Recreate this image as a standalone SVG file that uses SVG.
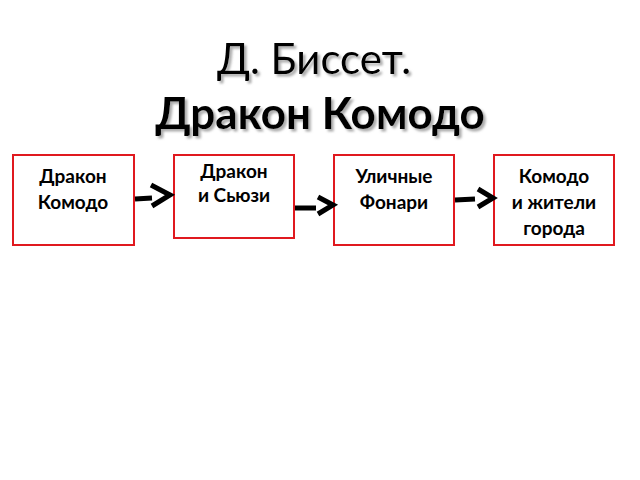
<svg xmlns="http://www.w3.org/2000/svg" width="640" height="480" viewBox="0 0 640 480">
<defs>
<filter id="sh" x="-10%" y="-30%" width="130%" height="170%">
<feDropShadow dx="2.5" dy="2.5" stdDeviation="0.8" flood-color="#888" flood-opacity="0.7"/>
</filter>
</defs>
<style>
.t{font-family:Lato,"Open Sans","DejaVu Sans",sans-serif;text-anchor:middle;fill:#000}
.b{fill:#fff;stroke:#e0191f;stroke-width:2}
.n{font-family:Lato,"Open Sans","DejaVu Sans",sans-serif;font-weight:bold;font-size:19px;text-anchor:middle;fill:#000}
.c{fill:none;stroke:#000;stroke-width:5;stroke-linecap:butt}
</style>
<rect width="640" height="480" fill="#fff"/>
<g id="title" filter="url(#sh)">
<text x="314" y="74" class="t" font-size="42">Д. Биссет.</text>
<text x="320" y="129" class="t" font-size="44" font-weight="bold">Дракон Комодо</text>
</g>
<g id="n1"><rect class="b" x="13" y="155" width="121" height="90"/>
<text class="n" x="73" y="183">Дракон</text><text class="n" x="73" y="209">Комодо</text></g>
<g id="n2"><rect class="b" x="174" y="155" width="120" height="83"/>
<text class="n" x="234" y="178">Дракон</text><text class="n" x="234" y="202">и Сьюзи</text></g>
<g id="n3"><rect class="b" x="334" y="155" width="120" height="90"/>
<text class="n" x="394" y="183">Уличные</text><text class="n" x="394" y="209">Фонари</text></g>
<g id="n4"><rect class="b" x="494" y="155" width="120" height="90"/>
<text class="n" x="554" y="183">Комодо</text><text class="n" x="554" y="209">и жители</text><text class="n" x="554" y="235">города</text></g>
<g id="connectors">
<path class="c" d="M135 199 L152 198 M151 185 L170 195 L152 206"/>
<path class="c" d="M295 208 L316 208 M318 197 L333 205 L318 214"/>
<path class="c" d="M455 200 L475 199 M478 189 L493 198 L478 207"/>
</g>
</svg>
